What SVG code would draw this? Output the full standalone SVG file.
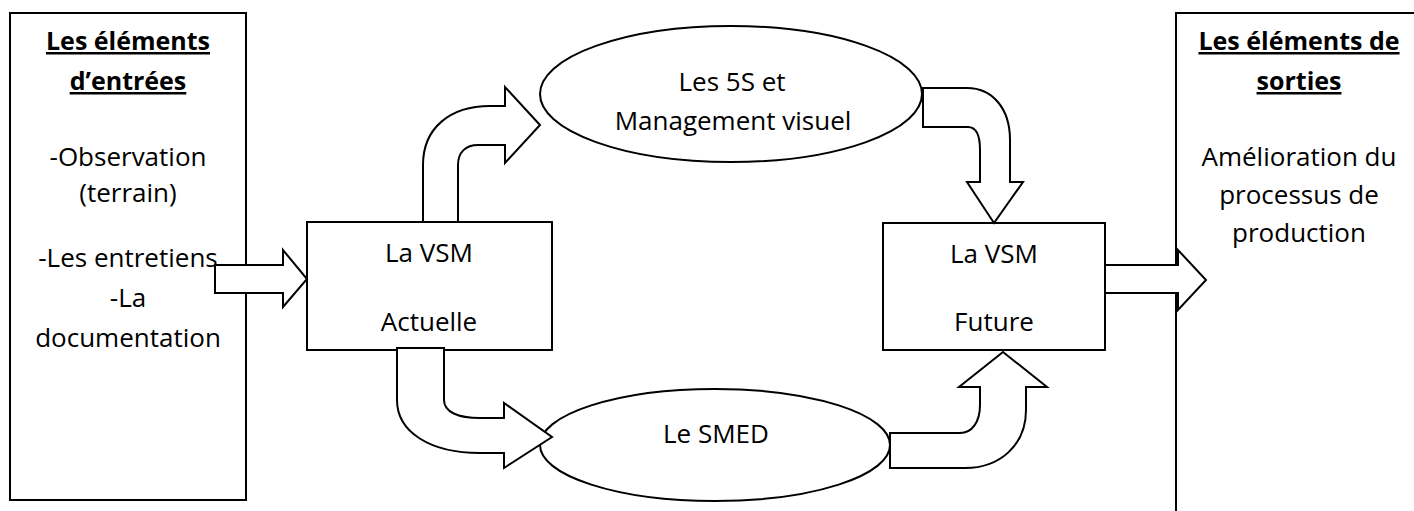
<svg xmlns="http://www.w3.org/2000/svg" width="1414" height="511" viewBox="0 0 1414 511">
<style>
  .box { fill: #fff; stroke: #000; stroke-width: 2; }
  .ell { fill: #fff; stroke: #000; stroke-width: 2; }
  .arr { fill: #fff; stroke: #000; stroke-width: 2; stroke-linejoin: miter; }
  text { font-family: "Open Sans", "Liberation Sans", sans-serif; font-size: 26px; fill: #000; text-anchor: middle; }
  .hd { font-weight: bold; font-size: 25px; text-decoration: underline; }
</style>
<rect width="1414" height="511" fill="#fff"/>

<g id="entrees">
  <rect class="box" x="10" y="13" width="236" height="487"/>
  <text class="hd" x="128" y="50">Les éléments</text>
  <text class="hd" x="128" y="90">d’entrées</text>
  <text x="128" y="166">-Observation</text>
  <text x="128" y="202">(terrain)</text>
  <text x="128" y="267">-Les entretiens</text>
  <text x="128" y="307">-La</text>
  <text x="128" y="347">documentation</text>
</g>

<g id="sorties">
  <rect class="box" x="1176" y="13" width="260" height="520"/>
  <text class="hd" x="1299" y="50">Les éléments de</text>
  <text class="hd" x="1299" y="90">sorties</text>
  <text x="1299" y="166">Amélioration du</text>
  <text x="1299" y="204">processus de</text>
  <text x="1299" y="242">production</text>
</g>

<g id="vsm-actuelle">
  <rect class="box" x="307" y="222" width="245" height="128"/>
  <text x="429" y="262">La VSM</text>
  <text x="429" y="331">Actuelle</text>
</g>

<g id="vsm-future">
  <rect class="box" x="883" y="223" width="222" height="127"/>
  <text x="994" y="263">La VSM</text>
  <text x="994" y="331">Future</text>
</g>

<g id="5s">
  <ellipse class="ell" cx="731" cy="94" rx="191" ry="68"/>
  <text x="732" y="91">Les 5S et</text>
  <text x="733" y="130">Management visuel</text>
</g>

<g id="smed">
  <ellipse class="ell" cx="715" cy="445" rx="175" ry="56"/>
  <text x="716" y="443">Le SMED</text>
</g>

<g id="connectors">
  <path class="arr" d="M215,265 L283,265 L283,250 L307,279 L283,307 L283,293 L215,293 Z"/>
  <path class="arr" d="M1105,265 L1178,265 L1178,250 L1206,280 L1178,310 L1178,293 L1105,293 Z"/>
  <path class="arr" d="M423,222 L423,165 C423,128 450,106 490,106 L505,106 L505,87 L540,125 L505,163 L505,145 L478,145 C466,145 458,152 458,165 L458,222 Z"/>
  <path class="arr" d="M923,88 L967,88 C992,88 1010,108 1010,140 L1010,182 L1023,182 L994,223 L967,182 L980,182 L980,150 C980,134 976,127 968,127 L923,127 Z"/>
  <path class="arr" d="M397,348 L397,400 C397,432 430,453 480,453 L504,453 L504,468 L552,437 L504,403 L504,418 L480,418 C458,418 444,412 444,400 L444,348 Z"/>
  <path class="arr" d="M890,433 L960,433 C972,433 980,422 980,405 L980,387 L959,387 L1003,352 L1047,387 L1026,387 L1026,410 C1026,445 1000,468 965,468 L890,468 Z"/>
</g>
</svg>
